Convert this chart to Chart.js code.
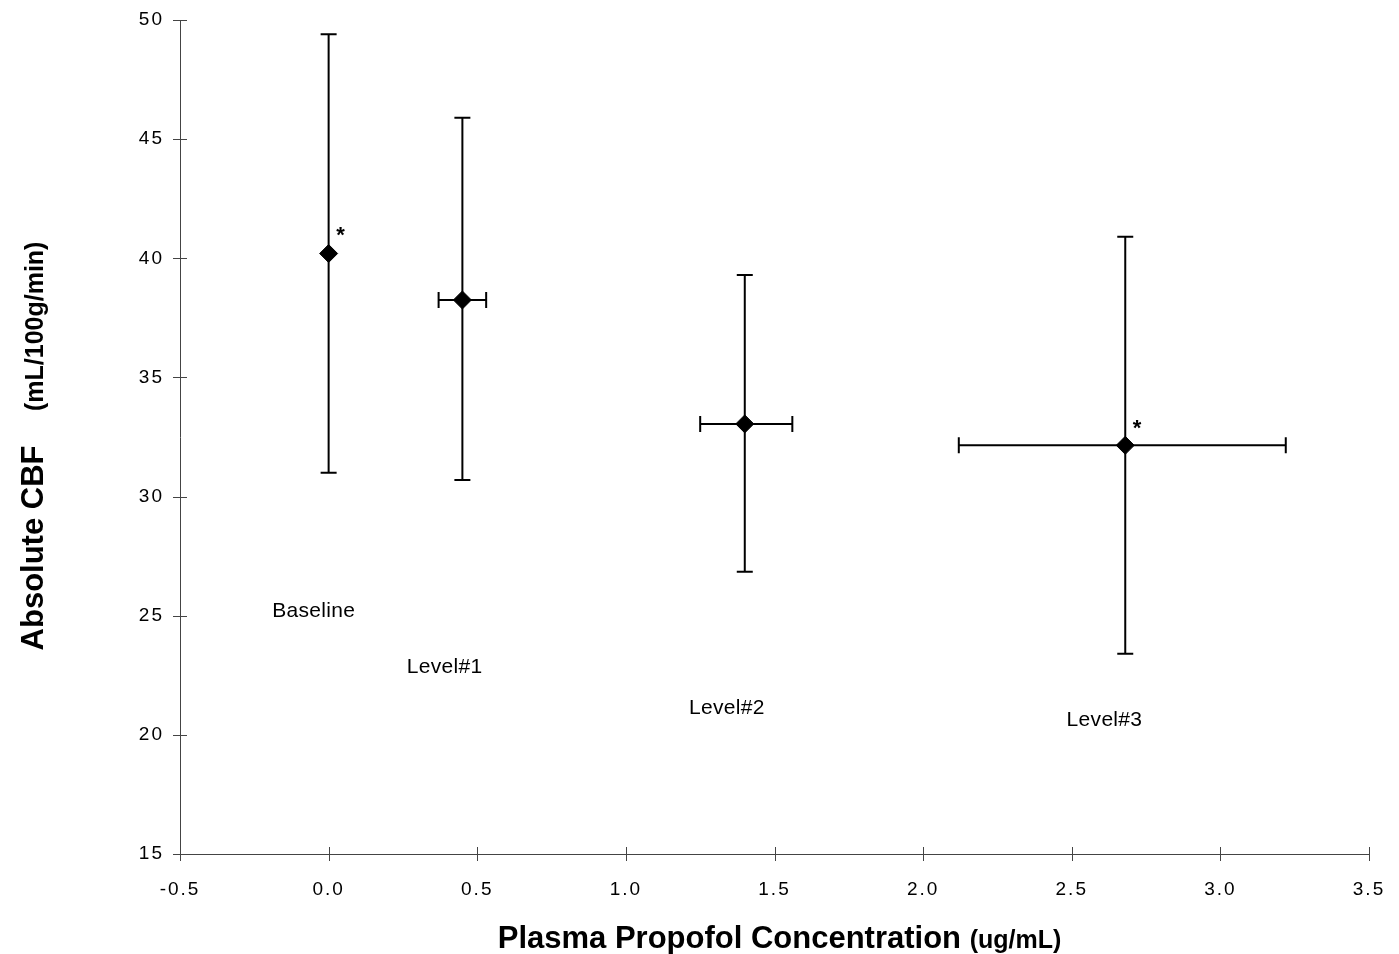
<!DOCTYPE html>
<html>
<head>
<meta charset="utf-8">
<script src="https://cdn.jsdelivr.net/npm/chart.js@4/dist/chart.umd.min.js"></script>
<style>
  html, body { margin: 0; padding: 0; background: #fff; }
  #wrap { width: 1399px; height: 954px; position: relative; }
</style>
</head>
<body>
<div id="wrap"><canvas id="cbfChart" width="1399" height="954"></canvas></div>
<script>
// plasma propofol concentration (ug/mL), mean and SD range
const conc = [0.0, 0.45, 1.40, 2.68];
const concLow = [0.0, 0.37, 1.25, 2.12];
const concHigh = [0.0, 0.53, 1.56, 3.22];
// absolute CBF (mL/100g/min), mean and SD range
const cbf = [40.2, 38.25, 33.05, 32.15];
const cbfLow = [31.0, 30.7, 26.85, 23.4];
const cbfHigh = [49.4, 45.9, 39.3, 40.9];
// group labels, anchored in data units
const groupNames = ["Baseline", "Level#1", "Level#2", "Level#3"];
const nameX = [-0.05, 0.39, 1.34, 2.61];
const nameY = [25.2, 22.85, 21.1, 20.6];
// significance marks
const starX = [0.04, 2.72];
const starY = [41.1, 33.0];
const xTicks = [-0.5, 0.0, 0.5, 1.0, 1.5, 2.0, 2.5, 3.0, 3.5];
const yTicks = [15, 20, 25, 30, 35, 40, 45, 50];

const points = [];
for (let i = 0; i < conc.length; i++) {
    points.push({x: conc[i], y: cbf[i]});
}

const errorBars = {
    id: 'errorBars',
    beforeDatasetsDraw(chart) {
        const ctx = chart.ctx;
        const xs = chart.scales.x, ys = chart.scales.y;
        ctx.save();
        ctx.strokeStyle = '#000';
        ctx.lineWidth = 2;
        for (let i = 0; i < conc.length; i++) {
            const px = xs.getPixelForValue(conc[i]);
            const py = ys.getPixelForValue(cbf[i]);
            const top = ys.getPixelForValue(cbfHigh[i]);
            const bot = ys.getPixelForValue(cbfLow[i]);
            ctx.beginPath();
            ctx.moveTo(px, top); ctx.lineTo(px, bot);
            ctx.moveTo(px - 8, top); ctx.lineTo(px + 8, top);
            ctx.moveTo(px - 8, bot); ctx.lineTo(px + 8, bot);
            ctx.stroke();
            if (concHigh[i] > concLow[i]) {
                const l = xs.getPixelForValue(concLow[i]);
                const r = xs.getPixelForValue(concHigh[i]);
                ctx.beginPath();
                ctx.moveTo(l, py); ctx.lineTo(r, py);
                ctx.moveTo(l, py - 8); ctx.lineTo(l, py + 8);
                ctx.moveTo(r, py - 8); ctx.lineTo(r, py + 8);
                ctx.stroke();
            }
        }
        ctx.restore();
    }
};

function drawTwoPart(ctx, a, b, fa, fb, cx, y) {
    ctx.font = fa; const wa = ctx.measureText(a).width;
    ctx.font = fb; const wb = ctx.measureText(b).width;
    const sx = cx - (wa + wb) / 2;
    ctx.font = fa; ctx.fillText(a, sx, y);
    ctx.font = fb; ctx.fillText(b, sx + wa, y);
}

const decorations = {
    id: 'decorations',
    beforeDraw(chart) {
        chart.ctx.letterSpacing = '2px';
    },
    afterDraw(chart) {
        const ctx = chart.ctx;
        const xs = chart.scales.x, ys = chart.scales.y;
        const area = chart.chartArea;
        ctx.save();
        ctx.letterSpacing = '0px';
        // ticks crossing the axes
        ctx.strokeStyle = '#444';
        ctx.lineWidth = 1;
        ctx.beginPath();
        xTicks.forEach(v => {
            const p = Math.round(xs.getPixelForValue(v)) + 0.5;
            ctx.moveTo(p, area.bottom - 7); ctx.lineTo(p, area.bottom + 7);
        });
        yTicks.forEach(v => {
            const p = Math.round(ys.getPixelForValue(v)) + 0.5;
            ctx.moveTo(area.left - 7, p); ctx.lineTo(area.left + 7, p);
        });
        ctx.stroke();

        ctx.fillStyle = '#000';
        ctx.textAlign = 'center';
        ctx.textBaseline = 'middle';
        ctx.font = '21px "Liberation Sans", Arial, sans-serif';
        ctx.letterSpacing = '0.3px';
        for (let i = 0; i < groupNames.length; i++) {
            ctx.fillText(groupNames[i], xs.getPixelForValue(nameX[i]), ys.getPixelForValue(nameY[i]));
        }
        ctx.letterSpacing = '0px';
        ctx.font = 'bold 22px "Liberation Sans", Arial, sans-serif';
        for (let i = 0; i < starX.length; i++) {
            ctx.fillText('*', xs.getPixelForValue(starX[i]), ys.getPixelForValue(starY[i]) + 4);
        }

        const big = 'bold 31px "Liberation Sans", Arial, sans-serif';
        const small = 'bold 25px "Liberation Sans", Arial, sans-serif';
        ctx.textAlign = 'left';
        ctx.textBaseline = 'alphabetic';
        // x axis title
        drawTwoPart(ctx, 'Plasma Propofol Concentration ', '(ug/mL)', big, small,
            (area.left + area.right) / 2 + 5, 948);
        // y axis title, rotated
        ctx.translate(43, (area.top + area.bottom) / 2 + 9);
        ctx.rotate(-Math.PI / 2);
        drawTwoPart(ctx, 'Absolute CBF    ', '(mL/100g/min)', big, small, 0, 0);
        ctx.restore();
    }
};

new Chart(document.getElementById('cbfChart'), {
    type: 'scatter',
    data: {
        datasets: [{
            data: points,
            pointStyle: 'rectRot',
            pointRadius: 9,
            pointHoverRadius: 9,
            backgroundColor: '#000',
            borderColor: '#000',
            borderWidth: 1
        }]
    },
    options: {
        responsive: false,
        animation: false,
        events: [],
        layout: { padding: { top: 20, right: 30, left: 0, bottom: 0 } },
        plugins: { legend: { display: false }, tooltip: { enabled: false } },
        scales: {
            x: {
                type: 'linear',
                min: -0.5, max: 3.5,
                afterBuildTicks: s => { s.ticks = xTicks.map(v => ({value: v})); },
                afterFit: s => { s.height = 100; s.paddingLeft = 0; s.paddingRight = 0; },
                grid: { display: false, drawTicks: false },
                border: { display: true, color: '#444', width: 1 },
                ticks: {
                    color: '#000',
                    padding: 24,
                    font: { family: '"Liberation Sans", Arial, sans-serif', size: 19 },
                    callback: v => v.toFixed(1)
                }
            },
            y: {
                type: 'linear',
                min: 15, max: 50,
                afterBuildTicks: s => { s.ticks = yTicks.map(v => ({value: v})); },
                afterFit: s => { s.width = 180; s.paddingTop = 0; s.paddingBottom = 0; },
                grid: { display: false, drawTicks: false },
                border: { display: true, color: '#444', width: 1 },
                ticks: {
                    color: '#000',
                    padding: 16,
                    font: { family: '"Liberation Sans", Arial, sans-serif', size: 19 },
                    callback: v => String(v)
                }
            }
        }
    },
    plugins: [errorBars, decorations]
});
</script>
</body>
</html>
